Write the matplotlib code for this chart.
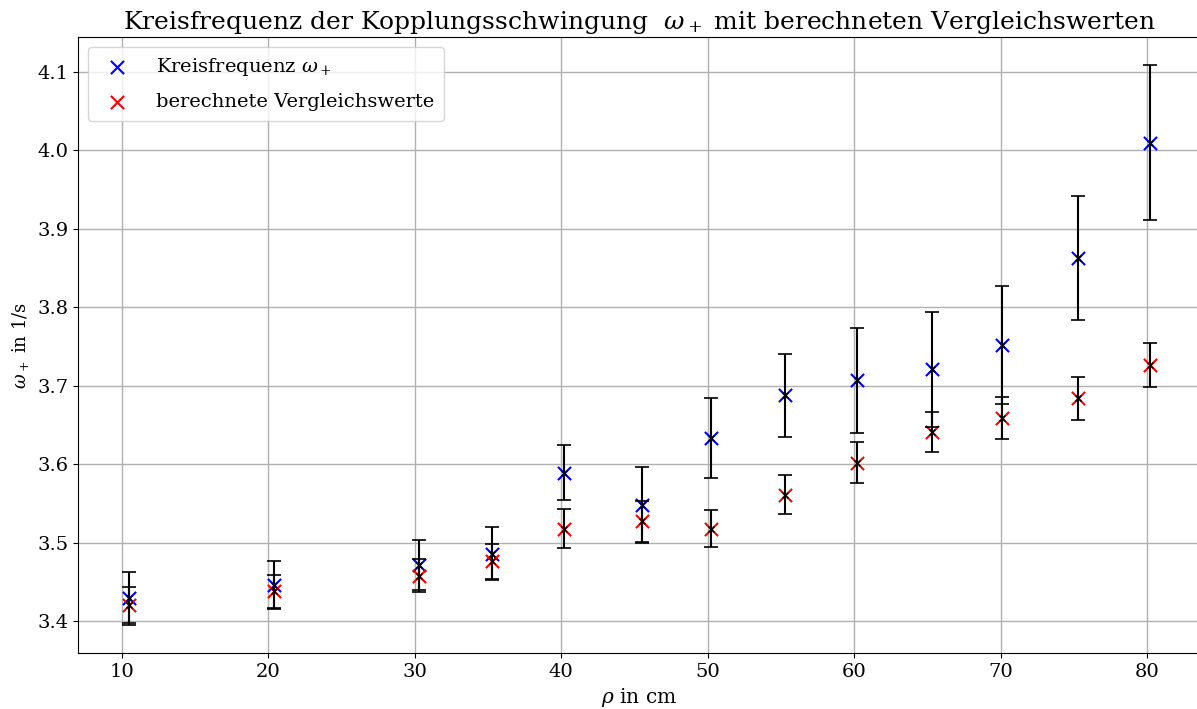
#!/usr/bin/env python3
import matplotlib
matplotlib.use('Agg')
import matplotlib.pyplot as plt
import numpy as np

plt.rcParams['font.family'] = 'serif'
plt.rcParams['mathtext.fontset'] = 'dejavuserif'

# Pendulum distance rho in cm
rho = np.array([10.5, 20.4, 30.3, 35.3, 40.2, 45.5, 50.2, 55.3, 60.2, 65.3, 70.1, 75.3, 80.2])

# Measured angular frequency omega_+ in 1/s and its uncertainty
omega_plus = np.array([3.429, 3.446, 3.471, 3.486, 3.589, 3.548, 3.634, 3.688, 3.707, 3.721, 3.752, 3.863, 4.010])
omega_plus_err = np.array([0.034, 0.031, 0.032, 0.034, 0.035, 0.049, 0.051, 0.053, 0.067, 0.073, 0.075, 0.079, 0.099])

# Calculated comparison values and their uncertainty
omega_calc = np.array([3.421, 3.438, 3.458, 3.476, 3.518, 3.527, 3.518, 3.561, 3.602, 3.641, 3.659, 3.684, 3.727])
omega_calc_err = np.array([0.023, 0.021, 0.021, 0.022, 0.025, 0.026, 0.024, 0.025, 0.026, 0.026, 0.027, 0.027, 0.028])

fig, ax = plt.subplots(figsize=(11.97, 7.09), dpi=100)

ax.scatter(rho, omega_plus, marker='x', color='blue', s=90, zorder=3,
           label=r'Kreisfrequenz $\omega_+$')
ax.scatter(rho, omega_calc, marker='x', color='red', s=90, zorder=3,
           label='berechnete Vergleichswerte')
ax.errorbar(rho, omega_plus, yerr=omega_plus_err, fmt='x', color='black',
            markersize=5, capsize=5, elinewidth=1.5, capthick=1.2, zorder=4)
ax.errorbar(rho, omega_calc, yerr=omega_calc_err, fmt='x', color='black',
            markersize=5, capsize=5, elinewidth=1.5, capthick=1.2, zorder=4)

ax.grid(True, color='#b0b0b0', linewidth=1.0)
ax.set_axisbelow(True)
ax.tick_params(labelsize=14)
ax.set_xlabel(r'$\rho$ in cm', fontsize=14.5)
ax.set_ylabel(r'$\omega_+$ in 1/s', fontsize=13)
ax.set_title(r'Kreisfrequenz der Kopplungsschwingung  $\omega_+$ mit berechneten Vergleichswerten',
             fontsize=18)
ax.legend(loc='upper left', fontsize=14, labelspacing=0.75, handletextpad=1.0,
          borderpad=0.5)

ax.set_position([78 / 1197, 56 / 709, 1123 / 1197, 616 / 709])
fig.savefig('out.png')
